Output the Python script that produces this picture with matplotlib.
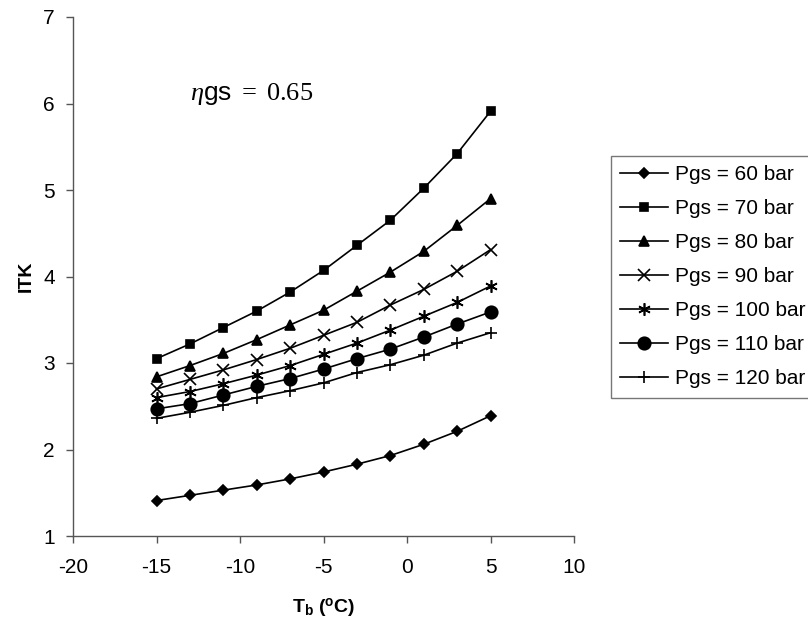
import matplotlib
matplotlib.use("Agg")
import matplotlib.pyplot as plt

plt.rcParams["font.family"] = ["Liberation Sans", "DejaVu Sans"]
plt.rcParams["axes.unicode_minus"] = False
plt.rcParams["mathtext.fontset"] = "custom"
plt.rcParams["mathtext.rm"] = "Liberation Serif"
plt.rcParams["mathtext.it"] = "Liberation Serif:italic"
plt.rcParams["mathtext.bf"] = "Liberation Sans:bold"
plt.rcParams["mathtext.sf"] = "Liberation Sans"

# evaporator temperature T_b (degC)
t_b = [-15, -13, -11, -9, -7, -5, -3, -1, 1, 3, 5]

# ITK for each gas cooler pressure
itk_60 = [1.41, 1.47, 1.53, 1.59, 1.66, 1.74, 1.83, 1.93, 2.06, 2.21, 2.39]
itk_70 = [3.05, 3.22, 3.41, 3.60, 3.82, 4.07, 4.36, 4.65, 5.02, 5.42, 5.91]
itk_80 = [2.84, 2.97, 3.11, 3.27, 3.44, 3.61, 3.83, 4.05, 4.29, 4.59, 4.90]
itk_90 = [2.70, 2.81, 2.92, 3.04, 3.17, 3.32, 3.47, 3.67, 3.85, 4.06, 4.31]
itk_100 = [2.60, 2.67, 2.76, 2.86, 2.97, 3.10, 3.23, 3.38, 3.54, 3.70, 3.89]
itk_110 = [2.47, 2.53, 2.63, 2.73, 2.82, 2.93, 3.05, 3.16, 3.30, 3.45, 3.59]
itk_120 = [2.36, 2.43, 2.51, 2.60, 2.68, 2.77, 2.89, 2.98, 3.09, 3.23, 3.35]

labels = ["Pgs = 60 bar", "Pgs = 70 bar", "Pgs = 80 bar", "Pgs = 90 bar",
          "Pgs = 100 bar", "Pgs = 110 bar", "Pgs = 120 bar"]
series = [itk_60, itk_70, itk_80, itk_90, itk_100, itk_110, itk_120]
markers = ["D", "s", "^", "x", (6, 2, 0), "o", "+"]
msizes = [5, 6, 7, 8, 9, 9, 9]

fig = plt.figure(figsize=(8.08, 6.28), dpi=100)
ax = fig.add_axes([73 / 808, 1 - 536 / 628, (574 - 73) / 808, (536 - 17) / 628])

for y, lab, m, ms in zip(series, labels, markers, msizes):
    ax.plot(t_b, y, color="black", linewidth=1.2, marker=m, markersize=ms,
            markeredgewidth=1.2, label=lab)

ax.set_xlim(-20, 10)
ax.set_ylim(1, 7)
ax.set_xticks(range(-20, 11, 5))
ax.set_yticks(range(1, 8))
for side in ["top", "right"]:
    ax.spines[side].set_visible(False)
for side in ["left", "bottom"]:
    ax.spines[side].set_color("#555555")
    ax.spines[side].set_linewidth(1.0)
ax.tick_params(direction="out", length=5, width=1.0, color="#555555",
               labelsize=15, pad=8)
ax.tick_params(axis="x", pad=11)

ax.set_xlabel(r"T$_\mathbf{b}$ ($^\mathbf{o}$C)", fontsize=14,
              fontweight="bold", labelpad=14)
ax.set_ylabel("ITK", fontsize=14, fontweight="bold", labelpad=6)

ax.text(-13.0, 6.04, r"$\eta\mathsf{gs}\ =\ 0.65$", fontsize=19,
        va="baseline", ha="left")

leg = ax.legend(loc="upper left", bbox_to_anchor=(611 / 808, 1 - 156 / 628),
                bbox_transform=fig.transFigure, fontsize=15, frameon=True,
                fancybox=False, edgecolor="#555555", handlelength=2.3,
                handletextpad=0.3, labelspacing=0.72, borderpad=0.45,
                borderaxespad=0)
leg.get_frame().set_linewidth(1.0)

fig.savefig("out.png", dpi=100)
